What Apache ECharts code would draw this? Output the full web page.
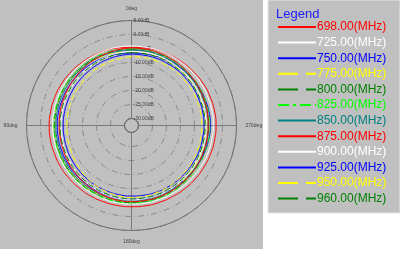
<!DOCTYPE html>
<html><head><meta charset="utf-8">
<script src="https://cdn.jsdelivr.net/npm/echarts@6/dist/echarts.min.js"></script>
<style>html,body{margin:0;padding:0;background:#fff}#c{width:400px;height:256px}</style>
</head><body><div id="c"></div>
<script>
// ---- data (dB, one value every 10 degrees from 0 to 360) ----
const angles = [0,10,20,30,40,50,60,70,80,90,100,110,120,130,140,150,160,170,180,190,200,210,220,230,240,250,260,270,280,290,300,310,320,330,340,350,360];
const freqNames = ['698.00(MHz)','725.00(MHz)','750.00(MHz)','775.00(MHz)','800.00(MHz)','825.00(MHz)',
                   '850.00(MHz)','875.00(MHz)','900.00(MHz)','925.00(MHz)','950.00(MHz)','960.00(MHz)'];
const f698 = [-4.6,-4.4,-4.2,-4.0,-3.8,-3.6,-3.4,-3.3,-3.2,-3.1,-3.1,-3.2,-3.2,-3.3,-3.4,-3.4,-3.5,-3.5,-3.5,-3.4,-3.3,-3.2,-3.0,-2.8,-2.7,-2.5,-2.4,-2.3,-2.4,-2.6,-2.8,-3.2,-3.5,-3.8,-4.1,-4.4,-4.6];
const f725 = [-4.1,-4.1,-4.2,-4.2,-4.2,-4.3,-4.3,-4.3,-4.3,-4.3,-4.4,-4.4,-4.4,-4.5,-4.5,-4.5,-4.5,-4.5,-4.5,-4.4,-4.3,-4.2,-4.0,-3.9,-3.7,-3.5,-3.4,-3.3,-3.3,-3.4,-3.5,-3.6,-3.8,-3.9,-4.0,-4.1,-4.1];
const f750 = [-6.6,-6.5,-6.4,-6.3,-6.2,-6.2,-6.1,-6.1,-6.0,-6.0,-6.0,-6.0,-6.0,-6.0,-6.1,-6.1,-6.1,-6.1,-6.1,-6.0,-5.9,-5.8,-5.6,-5.3,-5.0,-4.7,-4.5,-4.3,-4.4,-4.6,-4.8,-5.2,-5.5,-5.9,-6.2,-6.4,-6.6];
const f775 = [-6.1,-6.0,-5.8,-5.6,-5.4,-5.3,-5.1,-5.0,-4.9,-4.9,-4.9,-5.0,-5.0,-5.1,-5.1,-5.2,-5.2,-5.3,-5.3,-5.3,-5.4,-5.4,-5.5,-5.6,-5.7,-5.8,-5.9,-5.9,-5.9,-6.0,-6.0,-6.0,-6.1,-6.1,-6.1,-6.1,-6.1];
const f800 = [-5.4,-5.3,-5.3,-5.2,-5.1,-5.1,-5.0,-5.0,-5.0,-5.0,-5.0,-5.0,-5.0,-5.0,-5.0,-5.0,-5.0,-5.0,-5.0,-5.0,-5.0,-5.0,-5.0,-5.1,-5.1,-5.1,-5.1,-5.1,-5.1,-5.2,-5.2,-5.2,-5.3,-5.3,-5.3,-5.4,-5.4];
const f825 = [-5.0,-5.0,-4.9,-4.9,-4.9,-4.8,-4.8,-4.8,-4.8,-4.8,-4.8,-4.8,-4.8,-4.8,-4.8,-4.8,-4.8,-4.8,-4.8,-4.8,-4.7,-4.7,-4.7,-4.6,-4.6,-4.6,-4.5,-4.5,-4.6,-4.6,-4.7,-4.8,-4.8,-4.9,-4.9,-5.0,-5.0];
const f850 = [-5.6,-5.6,-5.5,-5.5,-5.5,-5.5,-5.5,-5.5,-5.5,-5.5,-5.5,-5.5,-5.5,-5.5,-5.5,-5.5,-5.5,-5.5,-5.5,-5.5,-5.4,-5.4,-5.3,-5.3,-5.2,-5.1,-5.1,-5.0,-5.1,-5.1,-5.2,-5.3,-5.3,-5.4,-5.5,-5.5,-5.6];
const f875 = [-4.8,-5.0,-5.3,-5.5,-5.8,-6.1,-6.3,-6.5,-6.6,-6.7,-6.7,-6.6,-6.4,-6.2,-6.0,-5.8,-5.6,-5.4,-5.3,-5.3,-5.2,-5.2,-5.2,-5.1,-5.1,-5.1,-5.1,-5.1,-5.0,-5.0,-4.9,-4.9,-4.8,-4.8,-4.8,-4.8,-4.8];
const f900 = [-6.0,-6.2,-6.4,-6.6,-6.8,-7.0,-7.1,-7.2,-7.3,-7.3,-7.3,-7.2,-7.0,-6.8,-6.6,-6.4,-6.2,-6.1,-6.0,-6.0,-5.9,-5.9,-5.9,-5.9,-5.9,-5.9,-5.9,-5.9,-5.9,-5.9,-5.9,-5.9,-5.9,-5.9,-5.9,-6.0,-6.0];
const f925 = [-7.0,-7.2,-7.4,-7.6,-7.8,-7.9,-8.0,-8.1,-8.1,-8.1,-8.1,-8.0,-7.9,-7.8,-7.7,-7.6,-7.5,-7.4,-7.3,-7.2,-7.1,-7.0,-6.9,-6.9,-6.8,-6.7,-6.7,-6.6,-6.6,-6.7,-6.7,-6.8,-6.8,-6.9,-6.9,-7.0,-7.0];
const f950 = [-7.9,-8.2,-8.5,-8.7,-8.9,-9.1,-9.2,-9.3,-9.4,-9.4,-9.3,-9.1,-8.8,-8.4,-8.0,-7.6,-7.3,-7.0,-6.8,-6.8,-6.9,-7.0,-7.1,-7.2,-7.3,-7.3,-7.4,-7.4,-7.4,-7.5,-7.5,-7.6,-7.6,-7.7,-7.8,-7.8,-7.9];
const f960 = [-6.5,-6.6,-6.7,-6.8,-6.9,-6.9,-7.0,-7.0,-7.0,-7.0,-7.0,-7.0,-6.9,-6.8,-6.7,-6.6,-6.5,-6.4,-6.3,-6.3,-6.2,-6.2,-6.2,-6.2,-6.2,-6.2,-6.2,-6.2,-6.2,-6.3,-6.3,-6.3,-6.4,-6.4,-6.4,-6.5,-6.5];
const radiusMin = -30, radiusMax = 5, radiusStep = 5;
const angleTickLabels = {0:'0deg', 90:'90deg', 180:'180deg', 270:'270deg'};
const legendTitle = 'Legend';

// ---- styles ----
const allSeries = [f698,f725,f750,f775,f800,f825,f850,f875,f900,f925,f950,f960];
const colors = ['#ff0000','#ffffff','#0000ff','#ffff00','#008000','#00ff00','#008080','#ff0000','#ffffff','#0000ff','#ffff00','#008000'];
const chartDash = ['solid','solid','solid',[6,3],[6,3],[5,2,1,2],'solid','solid','solid','solid',[6,3],[6,3]];
const legendDash = ['solid','solid','solid',[20,8],[20,8],[11,4,3,4],'solid','solid','solid','solid',[20,8],[20,8]];
const GRAY = '#c0c0c0';

const chart = echarts.init(document.getElementById('c'), null, {renderer:'canvas'});
const series = allSeries.map((vals, i) => ({
  name: freqNames[i], type: 'line', coordinateSystem: 'polar', polarIndex: 0,
  symbol: 'none', smooth: true, animation: false,
  lineStyle: {color: colors[i], width: 1, type: chartDash[i]},
  itemStyle: {color: colors[i]},
  data: vals.map((v, k) => [v, angles[k]])
}));

chart.setOption({
  backgroundColor: '#ffffff',
  animation: false,
  graphic: [
    {type:'rect', z:-100, shape:{x:0,y:0,width:263,height:249}, style:{fill:GRAY}},
    {type:'rect', z:-100, shape:{x:268,y:0,width:132,height:213}, style:{fill:GRAY, stroke:'#e4e4e4', lineWidth:1}}
  ],
  title: {text: legendTitle, left: 276, top: 8, padding: 0,
    textStyle: {color:'#1a1aff', fontSize:13, fontWeight:'normal', fontFamily:'Liberation Sans, Arial'}},
  legend: {
    orient: 'vertical', left: 277, top: 21, padding: 0,
    itemWidth: 38, itemHeight: 14, itemGap: 3.6, selectedMode: false,
    itemStyle: {opacity: 0},
    textStyle: {fontSize: 12, fontFamily:'Liberation Sans, Arial', padding:[0,0,0,-4]},
    data: freqNames.map((n, i) => ({name: n, textStyle: {color: colors[i]},
      itemStyle: {opacity: 0},
      lineStyle: {color: colors[i], width: 2, type: legendDash[i]}}))
  },
  polar: [
    {center: [131.5, 125.5], radius: [7, 105]},
    {center: [131.5, 125.5], radius: 7}
  ],
  angleAxis: [
    {polarIndex: 0, type: 'value', min: 0, max: 360, interval: 90, startAngle: 90, clockwise: false,
     axisLine: {show: true, lineStyle: {color: '#707070', width: 1}},
     axisTick: {show: false},
     axisLabel: {show: true, margin: 9, fontSize: 5, color: '#404040', fontFamily:'Liberation Sans, Arial',
       formatter: v => angleTickLabels[v % 360] || ''},
     splitLine: {show: true, lineStyle: {color: '#7a7a7a', width: 1}}},
    {polarIndex: 1, type: 'value', min: 0, max: 360, startAngle: 90, clockwise: false,
     axisLine: {show: true, lineStyle: {color: '#707070', width: 1}},
     axisTick: {show: false}, axisLabel: {show: false}, splitLine: {show: false}}
  ],
  radiusAxis: [
    {polarIndex: 0, type: 'value', min: radiusMin, max: radiusMax, interval: radiusStep,
     axisLine: {show: true, lineStyle: {color: '#7a7a7a'}},
     axisTick: {show: false},
     axisLabel: {show: true, fontSize: 5, color: '#404040', margin: 2, align: 'left', padding: [0,0,0,4],
       fontFamily:'Liberation Sans, Arial', formatter: v => v.toFixed(2) + 'dB'},
     splitLine: {show: true, lineStyle: {color: '#8a8a8a', width: 1, type: [6,3,1,3]}}},
    {polarIndex: 1, type: 'value', show: false}
  ],
  series: series
});
</script>
</body></html>
